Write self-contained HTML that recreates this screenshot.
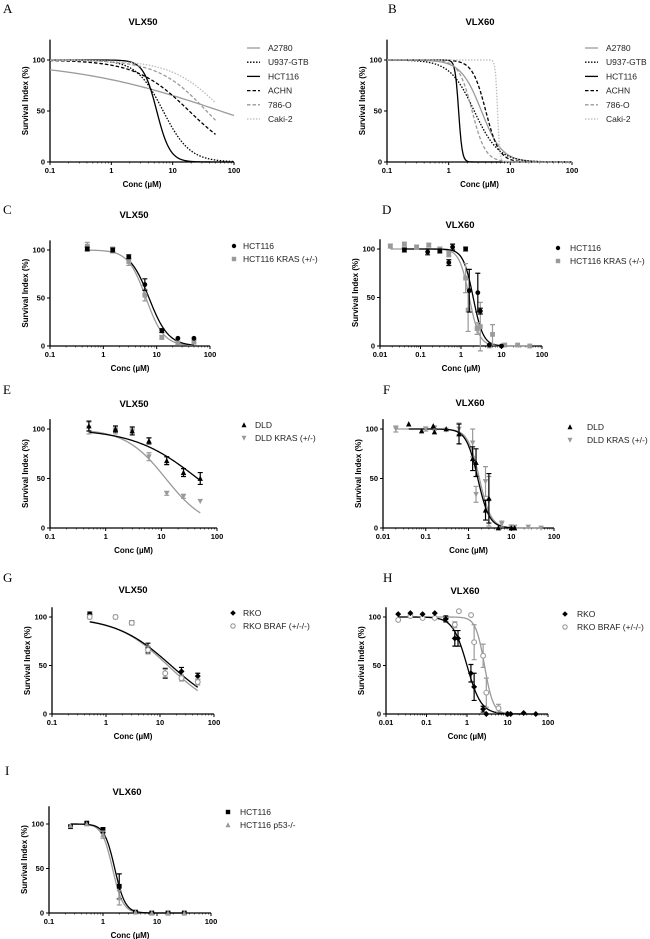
<!DOCTYPE html>
<html><head><meta charset="utf-8"><style>
html,body{margin:0;padding:0;background:#fff;}
svg{display:block;font-family:"Liberation Sans",sans-serif;}
.lbl{font-family:"Liberation Serif",serif;font-size:13px;}
</style></head><body>
<svg id="fig" width="650" height="939" viewBox="0 0 650 939" xmlns="http://www.w3.org/2000/svg">
<text class="lbl" x="3" y="13">A</text>
<text class="lbl" x="388" y="13">B</text>
<text class="lbl" x="3" y="214">C</text>
<text class="lbl" x="382" y="214">D</text>
<text class="lbl" x="3" y="394">E</text>
<text class="lbl" x="383" y="394">F</text>
<text class="lbl" x="3" y="582">G</text>
<text class="lbl" x="383" y="582">H</text>
<text class="lbl" x="5" y="775">I</text>
</svg>
<script>
// ---- Panel A (VLX50 curves) ----
const aNames = ["A2780","U937-GTB","HCT116","ACHN","786-O","Caki-2"];
const aEC50 = [60, 7, 5.5, 18.6, 35.7, 68];
const aHill = [0.35, 2, 4, 1.0, 1.09, 1.04];
const aXmax = [100, 100, 100, 50, 50, 50];
// ---- Panel B (VLX60 curves) ----
const bNames = ["A2780","U937-GTB","HCT116","ACHN","786-O","Caki-2"];
const bEC50 = [3.4, 2.6, 1.45, 4.0, 2.4, 6.2];
const bHill = [2.6, 2.2, 15, 4, 4, 25];
// ---- Panel C ----
const cX = [0.5,1.5,3,6,12.5,25,50];
const cY1 = [101,100,93,64,16,8,8];
const cE1 = [2,2,2,6,2,1,1];
const cY2 = [104,100,88,53,9,3,4];
const cE2 = [4,3,4,6,2,2,2];
const cFit = [[7.2,2.4],[6.3,2.6]];
// ---- Panel D ----
const dX1 = [0.04,0.15,0.3,0.5,0.62,1.3,1.6,2.6,3.0,5,10];
const dY1 = [99,97,98,86,102,100,57,55,36,1,0];
const dE1 = [2,3,2,3,3,2,22,20,3,1,1];
const dX2 = [0.018,0.04,0.08,0.16,0.3,0.5,1.3,1.5,2.5,3,5,6,12,25,50];
const dY2 = [103,105,102,104,100,95,70,37,18,20,0,12,1,1,0];
const dE2 = [2,2,2,2,2,3,15,22,6,25,1,10,1,1,1];
const dFit = [[2.0,3.5],[1.6,3.5]];
// ---- Panel E ----
const eX = [0.5,1.5,3,6,12.5,25,50];
const eY1 = [103,100,98,88,68,56,50];
const eE1 = [5,3,4,3,4,4,6];
const eY2 = [101,98,97,72,35,32,27];
const eE2 = [6,3,3,4,2,2,1];
const eFit = [[45,0.75],[12,1.2]];
// ---- Panel F ----
const fX1 = [0.04,0.08,0.15,0.16,0.3,0.6,1.25,1.5,2.5,3,5,10,12];
const fY1 = [105,98,103,97,100,95,70,66,18,30,0,0,0];
const fE1 = [1,1,1,1,1,10,12,14,10,25,1,1,1];
const fX2 = [0.02,0.1,0.16,0.3,0.6,1.25,1.5,2.5,3,6,10,12,25,50];
const fY2 = [100,100,101,99,100,86,34,47,27,4,1,1,1,0];
const fE2 = [3,2,2,1,6,14,8,15,25,3,2,1,1,1];
const fFit = [[1.65,3.2],[1.8,3.2]];
// ---- Panel G ----
const gX = [0.5,1.5,3,6,12.5,25,50];
const gY1 = [103,100,94,68,42,44,39];
const gE1 = [2,2,2,5,5,4,3];
const gY2 = [100,100,94,66,42,37,33];
const gE2 = [2,2,2,4,4,3,3];
const gFit = [[16,0.85],[14,0.9]];
// ---- Panel H ----
const hX1 = [0.02,0.04,0.08,0.16,0.3,0.5,0.6,1.25,1.5,2.5,3,10,12,25,50];
const hY1 = [103,104,103,104,98,78,78,42,28,5,0,0,0,1,0];
const hE1 = [1,1,1,1,3,8,8,9,14,3,1,1,1,1,1];
const hX2 = [0.02,0.04,0.08,0.16,0.3,0.5,0.63,1.26,1.5,2.5,3,6,10];
const hY2 = [97,101,99,99,99,92,106,102,74,60,22,6,0];
const hE2 = [1,1,1,1,1,3,1,1,18,12,15,4,1];
const hFit = [[1.0,2.5],[2.7,4]];
// ---- Panel I ----
const iX = [0.25,0.5,1,2,4,8,16,32];
const iY1 = [97,101,93,30,1,0,0,0];
const iE1 = [1,1,3,14,1,1,1,1];
const iY2 = [98,100,88,17,1,0,0,0];
const iE2 = [1,1,4,8,1,1,1,1];
const iFit = [[1.65,4.5],[1.5,4.5]];

const NS = "http://www.w3.org/2000/svg";
const svg = document.getElementById("fig");
function mk(tag, attrs, parent){const e=document.createElementNS(NS,tag);for(const k in attrs)e.setAttribute(k,attrs[k]);(parent||svg).appendChild(e);return e;}
function logistic(x,ec,h){return 100/(1+Math.pow(x/ec,h));}

function makeAxes(p){
  const g = mk("g",{});
  
  
  const lx0=Math.log10(p.xmin), lx1=Math.log10(p.xmax);
  p.sx = v => p.x0 + (Math.log10(v)-lx0)/(lx1-lx0)*(p.x1-p.x0);
  p.sy = v => p.y0 - v/100*(p.y0-p.y100);
  p.g = g;
  const yTop = p.sy(p.ytop);
  const ax = mk("path",{d:`M${p.x0} ${yTop} V${p.y0} H${p.x1}`,stroke:"#000","stroke-width":1.3,fill:"none"},g);
  
  
  [0,50,100].forEach(t=>{
    const y=p.sy(t);
    mk("line",{x1:p.x0-3,x2:p.x0,y1:y,y2:y,stroke:"#000","stroke-width":1},g);
    const tx=mk("text",{x:p.x0-5,y:y+2.5,"text-anchor":"end","font-size":7.5,"font-weight":"bold"},g);
    tx.textContent=t;
    
    
  });
  for(let e=Math.round(lx0);e<=Math.round(lx1);e++){
    const x=p.sx(Math.pow(10,e));
    mk("line",{x1:x,x2:x,y1:p.y0,y2:p.y0+3,stroke:"#000","stroke-width":1},g);
    const tx=mk("text",{x:x,y:p.y0+11,"text-anchor":"middle","font-size":7.5,"font-weight":"bold"},g);
    tx.textContent = e<0 ? (e===-1?"0.1":"0.01") : String(Math.pow(10,e));
    
    
    if(e<Math.round(lx1)){
      for(let m=2;m<10;m++){const xm=p.sx(m*Math.pow(10,e));mk("line",{x1:xm,x2:xm,y1:p.y0,y2:p.y0+1.5,stroke:"#000","stroke-width":0.6},g);}
    }
  }
  const xt=mk("text",{x:(p.x0+p.x1)/2,y:p.y0+25,"text-anchor":"middle","font-size":8,"font-weight":"bold"},g);
  xt.textContent="Conc (µM)";
  
  
  const yc=(p.y0+yTop)/2, yx=p.x0-22;
  const yt=mk("text",{x:yx,y:yc,"text-anchor":"middle","font-size":8,"font-weight":"bold",transform:`rotate(-90 ${yx} ${yc})`},g);
  yt.textContent="Survival Index (%)";
  
  
  const tt=mk("text",{x:p.tx,y:p.ty,"text-anchor":"middle","font-size":9.5,"font-weight":"bold"},g);
  tt.textContent=p.title;
  
  
  return p;
}
function curve(p,ec,h,xa,xb,style){
  let d="";const n=160;
  for(let i=0;i<=n;i++){const lx=Math.log10(xa)+(Math.log10(xb)-Math.log10(xa))*i/n;const x=Math.pow(10,lx);
    d+=(i?"L":"M")+p.sx(x).toFixed(2)+" "+p.sy(logistic(x,ec,h)).toFixed(2);}
  const el=mk("path",Object.assign({d:d,fill:"none","stroke-width":1.3},style),p.g);
  
  
}
function marker(g,shape,x,y,col,s){
  s=s||2.4;let el;
  if(shape==="circle") el=mk("circle",{cx:x,cy:y,r:s,fill:col},g);
  else if(shape==="ocircle") el=mk("circle",{cx:x,cy:y,r:s,fill:"#fff",stroke:col,"stroke-width":1.1},g);
  else if(shape==="square") el=mk("rect",{x:x-s,y:y-s,width:2*s,height:2*s,fill:col},g);
  else if(shape==="tri") el=mk("path",{d:`M${x} ${y-s-0.5}L${x+s+0.3} ${y+s}L${x-s-0.3} ${y+s}Z`,fill:col},g);
  else if(shape==="dtri") el=mk("path",{d:`M${x} ${y+s+0.5}L${x+s+0.3} ${y-s}L${x-s-0.3} ${y-s}Z`,fill:col},g);
  else if(shape==="diamond") el=mk("path",{d:`M${x} ${y-s-0.6}L${x+s+0.6} ${y}L${x} ${y+s+0.6}L${x-s-0.6} ${y}Z`,fill:col},g);
  return el;
}
function points(p,xs,ys,es,shape,col){
  xs.forEach((xv,i)=>{
    const x=p.sx(xv),y=p.sy(ys[i]),e=es[i]*(p.y0-p.y100)/100;
    if(es[i]>1.5){
      const eb=mk("path",{d:`M${x} ${y-e}V${y+e}M${x-2.5} ${y-e}H${x+2.5}M${x-2.5} ${y+e}H${x+2.5}`,stroke:col,"stroke-width":1.2,fill:"none"},p.g);
      
      
    }
    const m=marker(p.g,shape,x,y,col);
    
    
  });
}
function lineLegend(x,y,names,styles){
  names.forEach((n,i)=>{
    const yy=y+i*14.2;
    const l=mk("line",Object.assign({x1:x,x2:x+13,y1:yy-3,y2:yy-3,"stroke-width":1.3},styles[i]));
    
    
    const t=mk("text",{x:x+21,y:yy,"font-size":8.5,fill:"#222"});
    t.textContent=n;
    
    
  });
}
function markLegend(x,y,names,shapes,cols,gap){
  names.forEach((n,i)=>{
    const yy=y+i*13;
    const m=marker(svg,shapes[i],x,yy-3,cols[i],2.2);
    
    
    const t=mk("text",{x:x+gap,y:yy,"font-size":8.5,fill:"#222"});
    t.textContent=n;
    
    
  });
}
const BK="#000", GR="#9a9a9a";
const styles6=[
  {stroke:GR},{stroke:BK,"stroke-dasharray":"1.5 1.5"},{stroke:BK},
  {stroke:BK,"stroke-dasharray":"3.5 2"},{stroke:GR,"stroke-dasharray":"3.5 2"},{stroke:"#bbb","stroke-dasharray":"1.5 1.5"}];

// A
const pA=makeAxes({name:"panel-a-vlx50",x0:50,x1:234,xmin:0.1,xmax:100,y0:162,y100:60,ytop:120,title:"VLX50",tx:143,ty:25});
aNames.forEach((n,i)=>curve(pA,aEC50[i],aHill[i],0.1,aXmax[i],styles6[i]));
lineLegend(247,51,aNames,styles6);
// B
const pB=makeAxes({name:"panel-b-vlx60",x0:387,x1:572,xmin:0.1,xmax:100,y0:162,y100:60,ytop:120,title:"VLX60",tx:480,ty:25});
bNames.forEach((n,i)=>curve(pB,bEC50[i],bHill[i],0.1,100,styles6[i]));
lineLegend(585,51,bNames,styles6);
// C
const pC=makeAxes({name:"panel-c-vlx50",x0:50,x1:210,xmin:0.1,xmax:100,y0:346,y100:250,ytop:110,title:"VLX50",tx:134,ty:218});
curve(pC,cFit[1][0],cFit[1][1],0.5,50,{stroke:GR});
curve(pC,cFit[0][0],cFit[0][1],3,50,{stroke:BK});
points(pC,cX,cY2,cE2,"square",GR);points(pC,cX,cY1,cE1,"circle",BK);
markLegend(234,249,["HCT116","HCT116 KRAS (+/-)"],["circle","square"],[BK,GR],9);
// D
const pD=makeAxes({name:"panel-d-vlx60",x0:380,x1:542,xmin:0.01,xmax:100,y0:346,y100:249,ytop:110,title:"VLX60",tx:460,ty:228});
curve(pD,dFit[1][0],dFit[1][1],0.018,50,{stroke:GR});
curve(pD,dFit[0][0],dFit[0][1],0.04,10,{stroke:BK});
points(pD,dX2,dY2,dE2,"square",GR);points(pD,dX1,dY1,dE1,"circle",BK);
markLegend(558,251,["HCT116","HCT116 KRAS (+/-)"],["circle","square"],[BK,GR],12);
// E
const pE=makeAxes({name:"panel-e-vlx50",x0:50,x1:217,xmin:0.1,xmax:100,y0:528,y100:429,ytop:110,title:"VLX50",tx:134,ty:407});
curve(pE,eFit[1][0],eFit[1][1],0.5,50,{stroke:GR});
curve(pE,eFit[0][0],eFit[0][1],0.5,50,{stroke:BK});
points(pE,eX,eY2,eE2,"dtri",GR);points(pE,eX,eY1,eE1,"tri",BK);
markLegend(244,428,["DLD","DLD KRAS (+/-)"],["tri","dtri"],[BK,GR],11);
// F
const pF=makeAxes({name:"panel-f-vlx60",x0:383,x1:554,xmin:0.01,xmax:100,y0:528,y100:429,ytop:110,title:"VLX60",tx:470,ty:406});
curve(pF,fFit[1][0],fFit[1][1],0.02,50,{stroke:GR});
curve(pF,fFit[0][0],fFit[0][1],0.04,12,{stroke:BK});
points(pF,fX2,fY2,fE2,"dtri",GR);points(pF,fX1,fY1,fE1,"tri",BK);
markLegend(570,430,["DLD","DLD KRAS (+/-)"],["tri","dtri"],[BK,GR],17);
// G
const pG=makeAxes({name:"panel-g-vlx50",x0:52,x1:214,xmin:0.1,xmax:100,y0:714,y100:617,ytop:110,title:"VLX50",tx:133,ty:593});
curve(pG,gFit[1][0],gFit[1][1],0.5,50,{stroke:GR});
curve(pG,gFit[0][0],gFit[0][1],0.5,50,{stroke:BK});
points(pG,gX,gY1,gE1,"diamond",BK);points(pG,gX,gY2,gE2,"ocircle",GR);
markLegend(233,616,["RKO","RKO BRAF (+/-/-)"],["diamond","ocircle"],[BK,GR],10);
// H
const pH=makeAxes({name:"panel-h-vlx60",x0:386,x1:548,xmin:0.01,xmax:100,y0:714,y100:617,ytop:110,title:"VLX60",tx:465,ty:594});
curve(pH,hFit[1][0],hFit[1][1],0.02,10,{stroke:GR});
curve(pH,hFit[0][0],hFit[0][1],0.02,50,{stroke:BK});
points(pH,hX2,hY2,hE2,"ocircle",GR);points(pH,hX1,hY1,hE1,"diamond",BK);
markLegend(565,617,["RKO","RKO BRAF (+/-/-)"],["diamond","ocircle"],[BK,GR],12);
// I
const pI=makeAxes({name:"panel-i-vlx60",x0:49,x1:211,xmin:0.1,xmax:100,y0:913,y100:824,ytop:120,title:"VLX60",tx:127,ty:795});
curve(pI,iFit[1][0],iFit[1][1],0.25,32,{stroke:GR});
curve(pI,iFit[0][0],iFit[0][1],0.25,32,{stroke:BK});
points(pI,iX,iY1,iE1,"square",BK);points(pI,iX,iY2,iE2,"tri",GR);
markLegend(228,815,["HCT116","HCT116 p53-/-"],["square","tri"],[BK,GR],12);
</script>
</body></html>
